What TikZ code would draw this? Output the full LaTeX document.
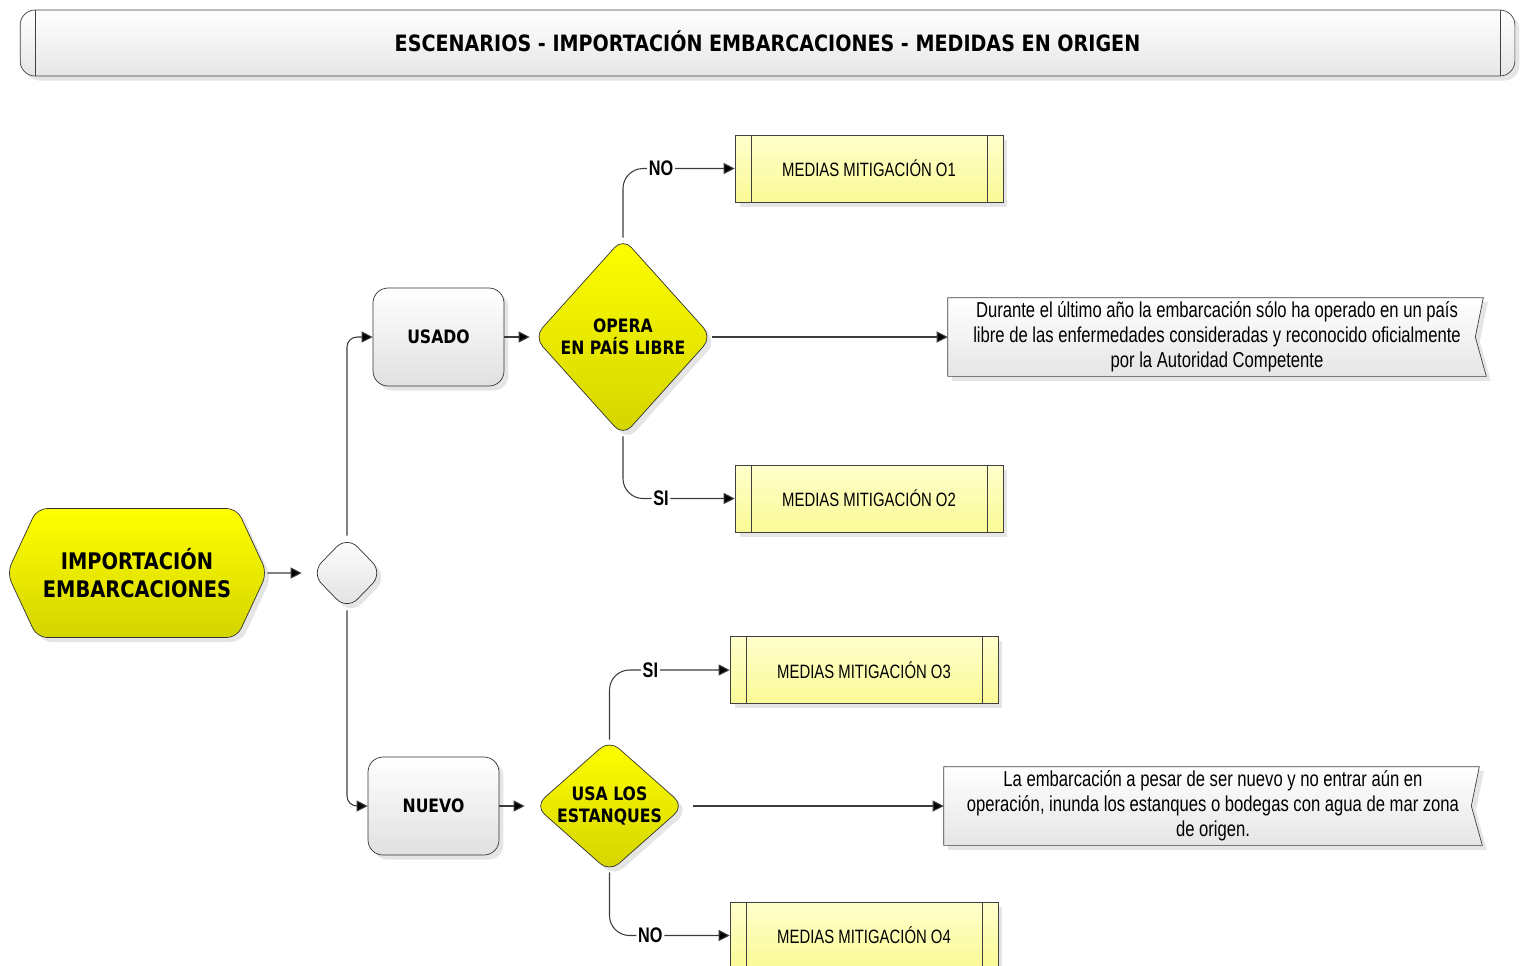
\documentclass[tikz,border=0pt]{standalone}
\usepackage{fontspec}
\setmainfont{Liberation Sans}
\newfontfamily\heavyfont[FakeStretch=0.85]{DejaVu Sans Bold}
\newfontfamily\narrowfont[FakeStretch=0.77]{Liberation Sans}
\newfontfamily\narrowbold[FakeStretch=0.77]{Liberation Sans Bold}
\usetikzlibrary{shapes.geometric,shapes.symbols,arrows.meta,shadows,backgrounds}

\definecolor{hexbottom}{RGB}{212,212,0}
\definecolor{measuretop}{RGB}{255,255,205}
\definecolor{measurebottom}{RGB}{250,250,150}
\definecolor{edgegray}{RGB}{60,60,60}

\tikzset{soft_shadow/.style={drop shadow={shadow xshift=0.09cm, shadow yshift=-0.09cm, fill=black, opacity=0.1}}}
\tikzset{title_bar/.style={draw=black!75, rounded corners=0.3cm, top color=white, bottom color=black!10, soft_shadow,
  minimum width=29.9cm, minimum height=1.32cm, inner sep=0pt, font=\heavyfont\fontsize{12.8}{15}\selectfont,
  path picture={\draw[black!75] ([xshift=0.3cm]path picture bounding box.north west) -- ([xshift=0.3cm]path picture bounding box.south west);
                \draw[black!75] ([xshift=-0.3cm]path picture bounding box.north east) -- ([xshift=-0.3cm]path picture bounding box.south east);}}}
\tikzset{start_hex/.style={signal, signal to=west and east, signal pointer angle=130, rounded corners=0.2cm,
  draw=black!80, top color=yellow, bottom color=hexbottom, soft_shadow, minimum width=5.2cm, minimum height=2.58cm,
  inner sep=0pt, align=center, font=\heavyfont\fontsize{13}{16.4}\selectfont}}
\tikzset{junction_diamond/.style={diamond, rounded corners=0.3cm, draw=black!80, top color=white, bottom color=black!12,
  soft_shadow, minimum width=1.44cm, minimum height=1.48cm, inner sep=0pt}}
\tikzset{case_box/.style={rectangle, rounded corners=0.3cm, draw=black!80, top color=white, bottom color=black!12,
  soft_shadow, minimum width=2.62cm, minimum height=1.96cm, font=\heavyfont\fontsize{10.5}{12}\selectfont}}
\tikzset{question_diamond/.style={diamond, rounded corners=0.25cm, draw=black!80, top color=yellow, bottom color=hexbottom,
  soft_shadow, inner sep=0pt, align=center, font=\heavyfont\fontsize{10.5}{12.6}\selectfont}}
\tikzset{measure_box/.style={rectangle, draw=black!75, top color=measuretop, bottom color=measurebottom, soft_shadow,
  minimum width=5.36cm, minimum height=1.34cm, font=\narrowfont\fontsize{11}{13}\selectfont,
  path picture={\draw[black!75] ([xshift=0.32cm]path picture bounding box.north west) -- ([xshift=0.32cm]path picture bounding box.south west);
                \draw[black!75] ([xshift=-0.32cm]path picture bounding box.north east) -- ([xshift=-0.32cm]path picture bounding box.south east);}}}
\tikzset{note_box/.style={rectangle, minimum width=10.76cm, minimum height=1.56cm, inner sep=0pt, align=center,
  font=\narrowfont\fontsize{12.3}{14.2}\selectfont}}
\tikzset{note_outline/.style={draw=black!75, top color=white, bottom color=black!10, soft_shadow}}
\tikzset{edge_arrow/.style={draw=edgegray, line width=0.6pt, -{Triangle[length=0.22cm, width=0.22cm, fill=black]}}}
\tikzset{edge_label/.style={fill=white, inner sep=1pt, font=\narrowbold\fontsize{12}{14}\selectfont}}

\begin{document}
\begin{tikzpicture}[x=0.02cm, y=-0.02cm]
    \useasboundingbox (0,0) rectangle (1520,965);
    % title
    \node[title_bar] (title) at (767.5,43) {\raisebox{2pt}{ESCENARIOS - IMPORTACIÓN EMBARCACIONES - MEDIDAS EN ORIGEN}};

    % left side: start and split
    \node[start_hex] (imp) at (137,573) {IMPORTACIÓN\\EMBARCACIONES};
    \node[junction_diamond] (jn) at (347,573) {};
    \node[case_box] (usado) at (438.5,337) {USADO};
    \node[case_box] (nuevo) at (433.5,806) {NUEVO};

    % questions
    \node[question_diamond, minimum width=3.56cm, minimum height=3.96cm] (opera) at (623,337) {OPERA\\EN PAÍS LIBRE};
    \node[question_diamond, aspect=1.13, minimum width=2.98cm, minimum height=2.64cm] (usa) at (609.5,806) {USA LOS\\ESTANQUES};

    % measures
    \node[measure_box] (o1) at (869,168.5) {MEDIAS MITIGACIÓN O1};
    \node[measure_box] (o2) at (869,498.5) {MEDIAS MITIGACIÓN O2};
    \node[measure_box] (o3) at (864,670) {MEDIAS MITIGACIÓN O3};
    \node[measure_box] (o4) at (864,935.5) {MEDIAS MITIGACIÓN O4};

    % notes
    \node[note_box] (note1) at (1217,337) {Durante el último año la embarcación sólo ha operado en un país\\libre de las enfermedades consideradas y reconocido oficialmente\\por la Autoridad Competente};
    \node[note_box] (note2) at (1213,806) {La embarcación a pesar de ser nuevo y no entrar aún en\\operación, inunda los estanques o bodegas con agua de mar zona\\de origen.};
    \begin{scope}[on background layer]
      \foreach \n in {note1,note2}
        \draw[note_outline] (\n.north west) -- ([xshift=-0.06cm]\n.north east) -- ([xshift=-0.22cm]\n.east) -- (\n.south east) -- (\n.south west) -- cycle;
    \end{scope}

    % connectors
    \draw[edge_arrow, shorten >=0.18cm] (imp) -- (jn);
    \draw[edge_arrow, rounded corners=0.2cm] (jn.north) |- (usado.west);
    \draw[edge_arrow, rounded corners=0.2cm] (jn.south) |- (nuevo.west);
    \draw[edge_arrow, shorten >=0.08cm] (usado) -- (opera);
    \draw[edge_arrow, shorten >=0.2cm] (nuevo) -- (usa);
    \draw[edge_arrow, rounded corners=0.4cm] (opera.north) |- node[edge_label, pos=0.67]{NO} (o1.west);
    \draw[edge_arrow] (opera.east) -- (note1.west);
    \draw[edge_arrow, rounded corners=0.4cm] (opera.south) |- node[edge_label, pos=0.67]{SI} (o2.west);
    \draw[edge_arrow, rounded corners=0.4cm] (usa.north) |- node[edge_label, pos=0.67]{SI} (o3.west);
    \draw[edge_arrow, shorten <=0.18cm] (usa.east) -- (note2.west);
    \draw[edge_arrow, rounded corners=0.4cm] (usa.south) |- node[edge_label, pos=0.67]{NO} (o4.west);
\end{tikzpicture}
\end{document}
